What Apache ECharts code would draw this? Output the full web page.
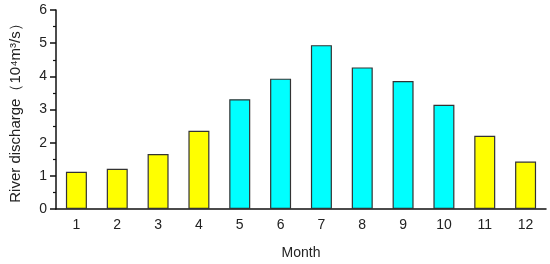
<!DOCTYPE html>
<html>
<head>
<meta charset="utf-8">
<script src="https://cdn.jsdelivr.net/npm/echarts@6/dist/echarts.min.js"></script>
<style>
  html, body { margin: 0; padding: 0; background: #fff; }
  #chart { width: 550px; height: 264px; }
</style>
</head>
<body>
<div id="chart"></div>
<script>
// monthly river discharge, 10^4 m3/s
var months = ["1", "2", "3", "4", "5", "6", "7", "8", "9", "10", "11", "12"];
var discharge = [1.12, 1.21, 1.66, 2.36, 3.31, 3.93, 4.94, 4.27, 3.86, 3.14, 2.21, 1.43];
var wetSeason = [5, 6, 7, 8, 9, 10];
var yTicks = [0, 1, 2, 3, 4, 5, 6];

var font = "'Liberation Sans', Arial, sans-serif";

var barData = [];
for (var i = 0; i < months.length; i++) {
  var wet = wetSeason.indexOf(Number(months[i])) >= 0;
  barData.push({
    value: discharge[i],
    itemStyle: { color: wet ? "#00ffff" : "#ffff00" }
  });
}

var chart = echarts.init(document.getElementById("chart"));
chart.setOption({
  animation: false,
  grid: { left: 56, right: 4, top: 10, bottom: 55, outerBoundsMode: "none" },
  xAxis: [
    {
      type: "category",
      data: months,
      name: "Month",
      nameLocation: "middle",
      nameGap: 37,
      nameTextStyle: { color: "#222", fontSize: 14, fontFamily: font },
      axisLine: { lineStyle: { color: "#111", width: 1.5 } },
      axisTick: { alignWithLabel: true, length: 6, lineStyle: { color: "#111", width: 1.5 } },
      axisLabel: { color: "#222", fontSize: 14, fontFamily: font, margin: 9 }
    },
    {
      type: "category",
      data: months,
      position: "bottom",
      axisLine: { show: false },
      axisTick: { length: 3, lineStyle: { color: "#111", width: 1.2 } },
      axisLabel: { show: false }
    }
  ],
  yAxis: {
    type: "value",
    min: 0,
    max: 6,
    interval: 1,
    name: "River discharge（10\u2074m\u00b3/s）",
    nameLocation: "middle",
    nameGap: 33,
    nameTextStyle: { color: "#222", fontSize: 15, fontFamily: font },
    axisLine: { show: true, lineStyle: { color: "#111", width: 1.5 } },
    axisTick: { show: true, length: 6, lineStyle: { color: "#111", width: 1.5 } },
    minorTick: { show: true, splitNumber: 2, length: 3, lineStyle: { color: "#111", width: 1.2 } },
    axisLabel: {
      color: "#222", fontSize: 14, fontFamily: font, margin: 9,
      formatter: function (v) { return yTicks.indexOf(v) >= 0 ? String(v) : ""; }
    },
    splitLine: { show: false }
  },
  series: [
    {
      type: "bar",
      data: barData,
      barWidth: 21,
      itemStyle: { borderColor: "#333", borderWidth: 1.2 }
    }
  ]
});
</script>
</body>
</html>
